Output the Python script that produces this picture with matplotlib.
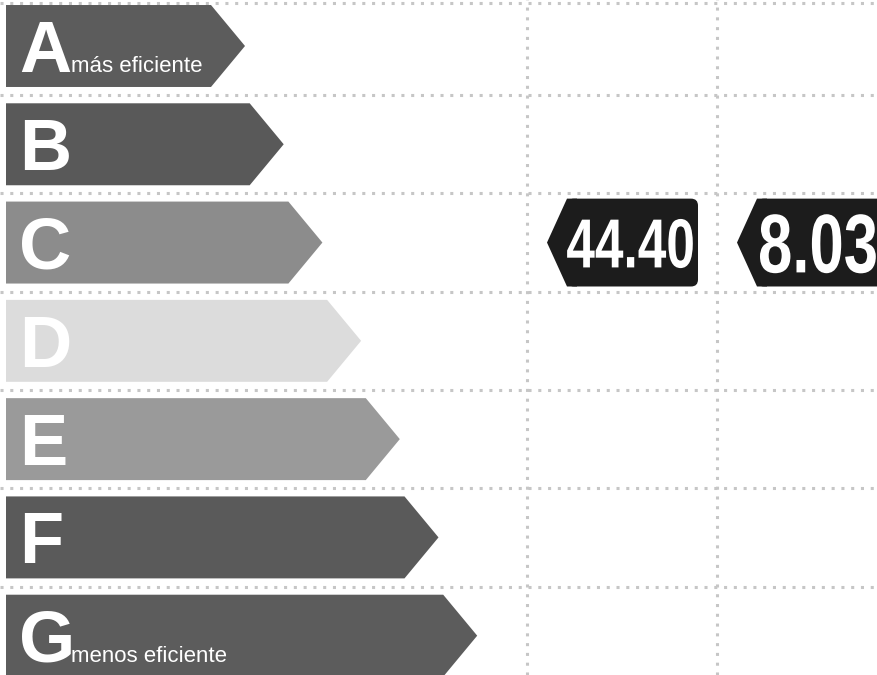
import matplotlib
matplotlib.use('Agg')
import matplotlib.pyplot as plt
import matplotlib.patheffects as pe
from matplotlib.patches import Polygon, FancyBboxPatch
from matplotlib.transforms import Affine2D

# Energy classes, top (most efficient) to bottom
classes = ['A', 'B', 'C', 'D', 'E', 'F', 'G']
class_notes = ['más eficiente', '', '', '', '', '', 'menos eficiente']
shades = ['#5c5c5c', '#595959', '#8c8c8c', '#dcdcdc', '#9a9a9a', '#5a5a5a', '#5c5c5c']

# Rated values (one per column): class reached and figure shown
value_classes = ['C', 'C']
values = [44.40, 8.03]

# layout (pixels on x, row units on y)
W, H = 877, 675
BAR_X0 = 6
TIP0, TIP_STEP = 245, 38.7
POINT = 34
BAR_HALF = 0.417
COL_X = [527, 717]
MARK_HALF = 0.447
VALUE_SIZE = [50, 60]
VALUE_RIGHT = [695, 878]
SQUEEZE = 0.74


class Squeeze(pe.AbstractPathEffect):
    """Narrow the glyphs horizontally around the text anchor."""
    def __init__(self, sx, anchor):
        super().__init__()
        self.sx = sx
        self.anchor = anchor

    def draw_path(self, renderer, gc, tpath, affine, rgbFace=None):
        cx = self.anchor()
        sq = Affine2D().translate(-cx, 0).scale(self.sx, 1).translate(cx, 0)
        renderer.draw_path(gc, tpath, affine + sq, rgbFace)


fig = plt.figure(figsize=(W / 100, H / 100), dpi=100)
ax = fig.add_axes([0, 0, 1, 1])
ax.set_xlim(0, W)
ax.set_ylim(6.40, -0.468)
ax.axis('off')

# dotted grid
grid = dict(color='#c6c6c6', lw=2.2, ls=(0, (1, 2.2)), zorder=1)
for y in [-0.44] + [i + 0.5 for i in range(len(classes) - 1)]:
    ax.axhline(y, **grid)
for x in COL_X:
    ax.axvline(x, **grid)

# px per row unit (for text offsets)
row_px = H / (6.40 + 0.468)

for i, (c, note, col) in enumerate(zip(classes, class_notes, shades)):
    tip = TIP0 + TIP_STEP * i
    pts = [(BAR_X0, i - BAR_HALF), (tip - POINT, i - BAR_HALF), (tip, i),
           (tip - POINT, i + BAR_HALF), (BAR_X0, i + BAR_HALF)]
    ax.add_patch(Polygon(pts, closed=True, fc=col, ec='none', zorder=2))
    base = i + 26 / row_px
    ax.text(19, base, c, color='white', fontsize=52, fontweight='bold',
            family='Liberation Sans', ha='left', va='baseline', zorder=3)
    if note:
        ax.text(71, base, note, color='white', fontsize=16,
                family='Liberation Sans', ha='left', va='baseline', zorder=3)

# value markers
for k, (vc, v) in enumerate(zip(value_classes, values)):
    r = classes.index(vc)
    x0 = COL_X[k]
    tip, sh, right = x0 + 20, x0 + 40, x0 + 171
    ax.add_patch(FancyBboxPatch((sh, r - MARK_HALF), right - sh, 2 * MARK_HALF,
                                boxstyle='round,pad=0,rounding_size=7',
                                mutation_aspect=1 / row_px,
                                fc='#1c1c1c', ec='none', zorder=4))
    ax.add_patch(Polygon([(tip, r), (sh, r - MARK_HALF), (sh + 10, r - MARK_HALF),
                          (sh + 10, r + MARK_HALF), (sh, r + MARK_HALF)],
                         closed=True, fc='#1c1c1c', ec='none', zorder=4))
    fs = VALUE_SIZE[k]
    cap = 0.716 * fs * 100 / 72
    tx = VALUE_RIGHT[k]
    ty = r + cap / 2 / row_px
    t = ax.text(tx, ty, f'{v:.2f}', color='white', fontsize=fs, fontweight='bold',
                family='Liberation Sans', ha='right', va='baseline', zorder=5)
    t.set_path_effects([Squeeze(SQUEEZE, lambda tx=tx, ty=ty: ax.transData.transform((tx, ty))[0])])

fig.savefig('out.png', dpi=100)
